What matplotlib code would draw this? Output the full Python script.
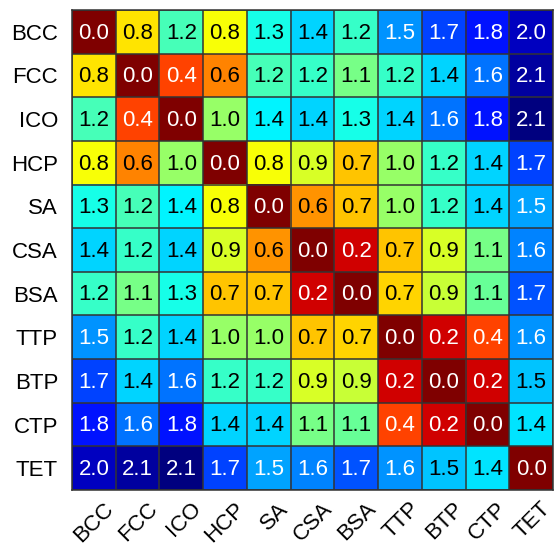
import numpy as np
import matplotlib
matplotlib.use('Agg')
import matplotlib.pyplot as plt
import matplotlib.transforms as mtrans
from matplotlib.colors import LinearSegmentedColormap

labels = ['BCC', 'FCC', 'ICO', 'HCP', 'SA', 'CSA', 'BSA', 'TTP', 'BTP', 'CTP', 'TET']

# upper triangle of the distance matrix (row i, columns i+1 .. end)
upper = [
    [0.76, 1.18, 0.80, 1.28, 1.41, 1.22, 1.54, 1.70, 1.80, 1.97],
    [0.41, 0.56, 1.18, 1.22, 1.07, 1.22, 1.41, 1.60, 2.06],
    [1.01, 1.36, 1.41, 1.27, 1.41, 1.62, 1.81, 2.13],
    [0.83, 0.87, 0.67, 1.01, 1.20, 1.41, 1.70],
    [0.57, 0.67, 1.01, 1.20, 1.41, 1.52],
    [0.17, 0.67, 0.87, 1.07, 1.57],
    [0.72, 0.90, 1.12, 1.68],
    [0.17, 0.40, 1.56],
    [0.18, 1.46],
    [1.38],
]

n = len(labels)
D = np.zeros((n, n))
for i, row in enumerate(upper):
    for k, v in enumerate(row):
        D[i, i + 1 + k] = v
        D[i + 1 + k, i] = v

# MATLAB style jet, flipped (small = dark red)
jet_pts = {
    'red':   [(0, 0, 0), (3/8, 0, 0), (5/8, 1, 1), (7/8, 1, 1), (1, 0.5, 0.5)],
    'green': [(0, 0, 0), (1/8, 0, 0), (3/8, 1, 1), (5/8, 1, 1), (7/8, 0, 0), (1, 0, 0)],
    'blue':  [(0, 0.5, 0.5), (1/8, 1, 1), (3/8, 1, 1), (5/8, 0, 0), (1, 0, 0)],
}
cmap = LinearSegmentedColormap('mjet', jet_pts, N=64).reversed()

plt.rcParams['font.family'] = ['Liberation Sans', 'DejaVu Sans']

fig = plt.figure(figsize=(5.54, 5.47), dpi=100)
ax = fig.add_axes([72/554, 1 - 490/547, 481/554, 480/547])
ax.imshow(D, cmap=cmap, vmin=0, vmax=D.max(), aspect='auto', interpolation='nearest')

for i in range(n):
    for j in range(n):
        v = D[i, j]
        c = 'white' if (v < 0.5 or v > 1.5) else 'black'
        ax.text(j, i + 0.03, f'{v:.1f}', ha='center', va='center', fontsize=16, color=c)

# cell borders
for k in range(n + 1):
    ax.axhline(k - 0.5, color='#333333', lw=1.1)
    ax.axvline(k - 0.5, color='#333333', lw=1.1)

ax.set_xticks(range(n))
ax.set_yticks(range(n))
ax.set_xticklabels(labels, rotation=45, ha='right', va='top', rotation_mode='anchor', fontsize=16)
ax.set_yticklabels(labels, fontsize=16)
ax.tick_params(length=0, pad=10)
ax.tick_params(axis='x', pad=6)
shift = mtrans.ScaledTranslation(9/100, 0, fig.dpi_scale_trans)
for t in ax.get_xticklabels():
    t.set_transform(t.get_transform() + shift)
for s in ax.spines.values():
    s.set_color('#333333')
    s.set_linewidth(1.1)
ax.set_xlim(-0.5, n - 0.5)
ax.set_ylim(n - 0.5, -0.5)

plt.savefig('out.png', dpi=100)
